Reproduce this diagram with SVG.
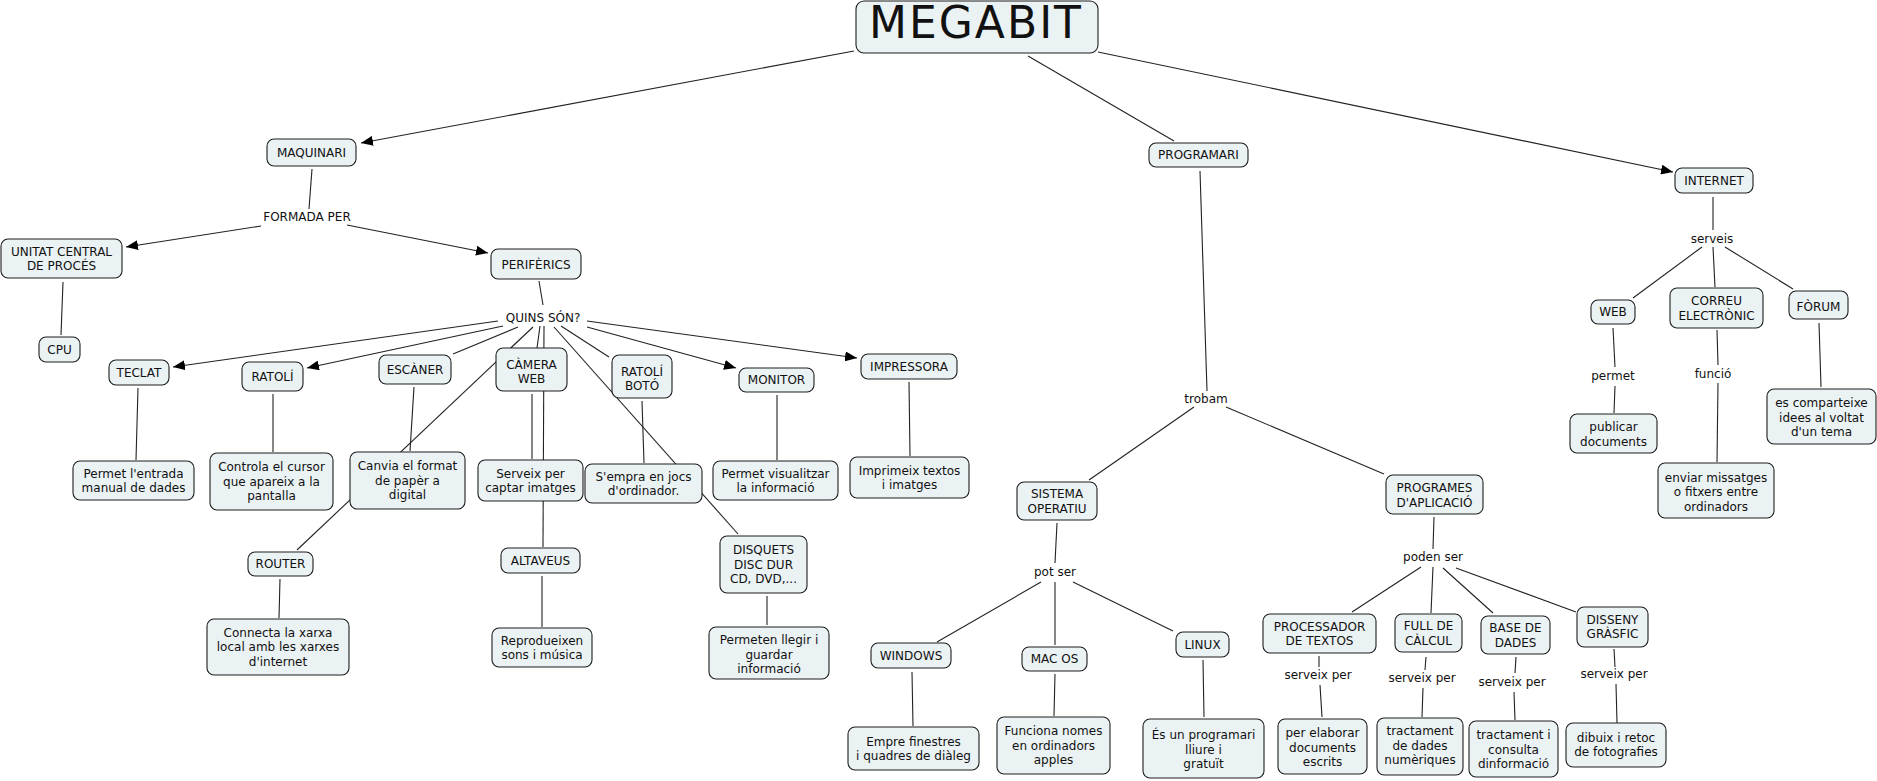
<svg xmlns="http://www.w3.org/2000/svg" width="1877" height="781" viewBox="0 0 1877 781">
<defs>
<style>
.n rect{fill:#ebf2f4;stroke:#1e1e1e;stroke-width:1.1}
text{font-family:"DejaVu Sans","Liberation Sans",sans-serif;font-size:12px;fill:#111;text-anchor:middle}
.c line{stroke:#222;stroke-width:1.1;fill:none}
.c line.a{marker-end:url(#arr)}
</style>
<marker id="arr" viewBox="0 0 12 10" refX="12" refY="5" markerWidth="12" markerHeight="10" markerUnits="userSpaceOnUse" orient="auto">
<path d="M0,0 L12,5 L0,10 z" fill="#000"/>
</marker>
</defs>
<rect x="0" y="0" width="1877" height="781" fill="#fff"/>

<g id="connectors" class="c">
<line class="a" x1="854" y1="51" x2="361" y2="143"/>
<line x1="1028" y1="56" x2="1174" y2="141"/>
<line class="a" x1="1098" y1="52" x2="1673" y2="172"/>
<line x1="312" y1="169" x2="309" y2="209"/>
<line class="a" x1="261" y1="226" x2="126" y2="247"/>
<line class="a" x1="347" y1="225" x2="488" y2="253"/>
<line x1="63" y1="282" x2="61" y2="335"/>
<line x1="539" y1="281" x2="543" y2="305"/>
<line class="a" x1="498" y1="321" x2="173" y2="367"/>
<line class="a" x1="503" y1="326" x2="307" y2="368"/>
<line x1="518" y1="327" x2="453" y2="354"/>
<line x1="533" y1="327" x2="297" y2="550"/>
<line x1="540" y1="326" x2="537" y2="348"/>
<line x1="544" y1="326" x2="543" y2="547"/>
<line x1="554" y1="327" x2="738" y2="534"/>
<line x1="561" y1="326" x2="609" y2="357"/>
<line class="a" x1="587" y1="327" x2="736" y2="368"/>
<line class="a" x1="587" y1="321" x2="857" y2="358"/>
<line x1="138" y1="388" x2="136" y2="460"/>
<line x1="273" y1="394" x2="273" y2="452"/>
<line x1="414" y1="387" x2="410" y2="451"/>
<line x1="532" y1="394" x2="532" y2="459"/>
<line x1="642" y1="401" x2="644" y2="463"/>
<line x1="777" y1="395" x2="777" y2="460"/>
<line x1="909" y1="382" x2="910" y2="456"/>
<line x1="280" y1="579" x2="279" y2="618"/>
<line x1="542" y1="576" x2="542" y2="627"/>
<line x1="767" y1="596" x2="767" y2="625"/>
<line x1="1200" y1="171" x2="1207" y2="391"/>
<line x1="1194" y1="407" x2="1089" y2="480"/>
<line x1="1226" y1="407" x2="1384" y2="474"/>
<line x1="1057" y1="523" x2="1055" y2="563"/>
<line x1="1041" y1="582" x2="937" y2="642"/>
<line x1="1055" y1="582" x2="1055" y2="645"/>
<line x1="1073" y1="582" x2="1173" y2="631"/>
<line x1="912" y1="672" x2="913" y2="726"/>
<line x1="1055" y1="674" x2="1054" y2="716"/>
<line x1="1203" y1="660" x2="1204" y2="717"/>
<line x1="1434" y1="517" x2="1433" y2="549"/>
<line x1="1421" y1="567" x2="1352" y2="612"/>
<line x1="1433" y1="567" x2="1431" y2="613"/>
<line x1="1443" y1="568" x2="1493" y2="613"/>
<line x1="1456" y1="568" x2="1576" y2="612"/>
<line x1="1319" y1="656" x2="1319" y2="667"/>
<line x1="1320" y1="685" x2="1322" y2="717"/>
<line x1="1426" y1="657" x2="1425" y2="670"/>
<line x1="1423" y1="688" x2="1422" y2="717"/>
<line x1="1516" y1="657" x2="1515" y2="673"/>
<line x1="1514" y1="692" x2="1515" y2="720"/>
<line x1="1614" y1="649" x2="1615" y2="667"/>
<line x1="1616" y1="684" x2="1617" y2="723"/>
<line x1="1713" y1="197" x2="1713" y2="230"/>
<line x1="1702" y1="247" x2="1633" y2="298"/>
<line x1="1713" y1="247" x2="1715" y2="287"/>
<line x1="1725" y1="247" x2="1793" y2="289"/>
<line x1="1613" y1="328" x2="1615" y2="367"/>
<line x1="1615" y1="386" x2="1614" y2="413"/>
<line x1="1717" y1="330" x2="1718" y2="365"/>
<line x1="1718" y1="383" x2="1717" y2="462"/>
<line x1="1819" y1="323" x2="1821" y2="387"/>
</g>

<g id="linking-phrases">
<text x="307" y="221.3">FORMADA PER</text>
<text x="543" y="321.5">QUINS SÓN?</text>
<text x="1206" y="402.5">trobam</text>
<text x="1712" y="243.3">serveis</text>
<text x="1613" y="379.5">permet</text>
<text x="1713" y="378.3">funció</text>
<text x="1055" y="575.5">pot ser</text>
<text x="1433" y="560.5">poden ser</text>
<text x="1318" y="678.5">serveix per</text>
<text x="1422" y="681.5">serveix per</text>
<text x="1512" y="685.5">serveix per</text>
<text x="1614" y="677.5">serveix per</text>
</g>

<g id="megabit" class="n"><rect x="856" y="1" width="242" height="52" rx="8"/><text x="975" y="38" style="font-size:44px" textLength="212">MEGABIT</text></g>
<g id="maquinari" class="n"><rect x="267" y="139" width="89" height="27" rx="7"/><text x="311.5" y="156.8">MAQUINARI</text></g>
<g id="programari" class="n"><rect x="1149" y="143" width="99" height="24" rx="7"/><text x="1198.5" y="159.3">PROGRAMARI</text></g>
<g id="internet" class="n"><rect x="1675" y="168" width="78" height="25" rx="7"/><text x="1714" y="184.8">INTERNET</text></g>
<g id="unitat" class="n"><rect x="1" y="239" width="121" height="39" rx="7"/><text x="61.5" y="255.6">UNITAT CENTRAL</text><text x="61.5" y="270.1">DE PROCÉS</text></g>
<g id="periferics" class="n"><rect x="491" y="249" width="90" height="30" rx="7"/><text x="536" y="268.8">PERIFÈRICS</text></g>
<g id="cpu" class="n"><rect x="39" y="337" width="41" height="25" rx="7"/><text x="59.5" y="353.8">CPU</text></g>
<g id="teclat" class="n"><rect x="109" y="360" width="60" height="25" rx="7"/><text x="139" y="376.8">TECLAT</text></g>
<g id="ratoli" class="n"><rect x="242" y="362" width="61" height="29" rx="7"/><text x="272.5" y="381.3">RATOLÍ</text></g>
<g id="escaner" class="n"><rect x="379" y="355" width="72" height="29" rx="7"/><text x="415" y="374.3">ESCÀNER</text></g>
<g id="camera-web" class="n"><rect x="496" y="348" width="71" height="43" rx="7"/><text x="531.5" y="368.5">CÀMERA</text><text x="531.5" y="383">WEB</text></g>
<g id="ratoli-boto" class="n"><rect x="612" y="355" width="60" height="43" rx="7"/><text x="642" y="376">RATOLÍ</text><text x="642" y="390.3">BOTÓ</text></g>
<g id="monitor" class="n"><rect x="739" y="368" width="75" height="24" rx="7"/><text x="776.5" y="384.3">MONITOR</text></g>
<g id="impressora" class="n"><rect x="861" y="354" width="96" height="25" rx="7"/><text x="909" y="370.8">IMPRESSORA</text></g>
<g id="permet-entrada" class="n"><rect x="73" y="461" width="121" height="39" rx="7"/><text x="133.5" y="477.6">Permet l'entrada</text><text x="133.5" y="492.1">manual de dades</text></g>
<g id="controla" class="n"><rect x="210" y="453" width="123" height="57" rx="7"/><text x="271.5" y="471.3">Controla el cursor</text><text x="271.5" y="485.8">que apareix a la</text><text x="271.5" y="500.3">pantalla</text></g>
<g id="canvia" class="n"><rect x="350" y="452" width="115" height="57" rx="7"/><text x="407.5" y="470.3">Canvia el format</text><text x="407.5" y="484.8">de papèr a</text><text x="407.5" y="499.3">digital</text></g>
<g id="serveix-captar" class="n"><rect x="478" y="460" width="105" height="41" rx="7"/><text x="530.5" y="477.6">Serveix per</text><text x="530.5" y="492.1">captar imatges</text></g>
<g id="sempra" class="n"><rect x="585" y="464" width="117" height="39" rx="7"/><text x="643.5" y="480.6">S'empra en jocs</text><text x="643.5" y="495.1">d'ordinador.</text></g>
<g id="permet-visualitzar" class="n"><rect x="713" y="461" width="125" height="39" rx="7"/><text x="775.5" y="477.6">Permet visualitzar</text><text x="775.5" y="492.1">la informació</text></g>
<g id="imprimeix" class="n"><rect x="850" y="457" width="119" height="41" rx="7"/><text x="909.5" y="474.6">Imprimeix textos</text><text x="909.5" y="489.1">i imatges</text></g>
<g id="router" class="n"><rect x="248" y="552" width="65" height="24" rx="7"/><text x="280.5" y="568.3">ROUTER</text></g>
<g id="connecta" class="n"><rect x="207" y="619" width="142" height="56" rx="7"/><text x="278" y="636.8">Connecta la xarxa</text><text x="278" y="651.3">local amb les xarxes</text><text x="278" y="665.8">d'internet</text></g>
<g id="altaveus" class="n"><rect x="501" y="548" width="79" height="25" rx="7"/><text x="540.5" y="564.8">ALTAVEUS</text></g>
<g id="reprodueixen" class="n"><rect x="492" y="628" width="100" height="39" rx="7"/><text x="542" y="644.6">Reprodueixen</text><text x="542" y="659.1">sons i música</text></g>
<g id="disquets" class="n"><rect x="720" y="536" width="87" height="57" rx="7"/><text x="763.5" y="554.3">DISQUETS</text><text x="763.5" y="568.8">DISC DUR</text><text x="763.5" y="583.3">CD, DVD,...</text></g>
<g id="permeten" class="n"><rect x="709" y="627" width="120" height="52" rx="7"/><text x="769" y="644.3">Permeten llegir i</text><text x="769" y="658.8">guardar</text><text x="769" y="673.3">informació</text></g>
<g id="sistema-operatiu" class="n"><rect x="1017" y="482" width="80" height="38" rx="7"/><text x="1057" y="498.2">SISTEMA</text><text x="1057" y="512.7">OPERATIU</text></g>
<g id="programes-aplicacio" class="n"><rect x="1386" y="475" width="97" height="39" rx="7"/><text x="1434.5" y="492.3">PROGRAMES</text><text x="1434.5" y="506.8">D'APLICACIÓ</text></g>
<g id="windows" class="n"><rect x="871" y="643" width="80" height="25" rx="7"/><text x="911" y="659.8">WINDOWS</text></g>
<g id="macos" class="n"><rect x="1022" y="647" width="65" height="24" rx="7"/><text x="1054.5" y="663.3">MAC OS</text></g>
<g id="linux" class="n"><rect x="1176" y="632" width="53" height="25" rx="7"/><text x="1202.5" y="648.8">LINUX</text></g>
<g id="empre" class="n"><rect x="848" y="727" width="131" height="43" rx="7"/><text x="913.5" y="745.6">Empre finestres</text><text x="913.5" y="760.1">i quadres de diàleg</text></g>
<g id="funciona" class="n"><rect x="997" y="717" width="113" height="57" rx="7"/><text x="1053.5" y="735">Funciona nomes</text><text x="1053.5" y="749.5">en ordinadors</text><text x="1053.5" y="764">apples</text></g>
<g id="es-programari" class="n"><rect x="1143" y="719" width="121" height="59" rx="7"/><text x="1203.5" y="739">És un programari</text><text x="1203.5" y="753.5">lliure i</text><text x="1203.5" y="768">gratuït</text></g>
<g id="processador" class="n"><rect x="1263" y="614" width="113" height="39" rx="7"/><text x="1319.5" y="630.6">PROCESSADOR</text><text x="1319.5" y="645.1">DE TEXTOS</text></g>
<g id="full-calcul" class="n"><rect x="1395" y="614" width="67" height="38" rx="7"/><text x="1428.5" y="630.3">FULL DE</text><text x="1428.5" y="644.8">CÀLCUL</text></g>
<g id="base-dades" class="n"><rect x="1481" y="616" width="69" height="38" rx="7"/><text x="1515.5" y="632.1">BASE DE</text><text x="1515.5" y="646.6">DADES</text></g>
<g id="disseny" class="n"><rect x="1577" y="607" width="71" height="40" rx="7"/><text x="1612.5" y="623.6">DISSENY</text><text x="1612.5" y="638.3">GRÀSFIC</text></g>
<g id="elaborar" class="n"><rect x="1278" y="719" width="89" height="55" rx="7"/><text x="1322.5" y="737">per elaborar</text><text x="1322.5" y="751.5">documents</text><text x="1322.5" y="766">escrits</text></g>
<g id="tractament-dades" class="n"><rect x="1377" y="718" width="86" height="57" rx="7"/><text x="1420" y="735">tractament</text><text x="1420" y="749.5">de dades</text><text x="1420" y="764">numèriques</text></g>
<g id="tractament-consulta" class="n"><rect x="1469" y="721" width="89" height="56" rx="7"/><text x="1513.5" y="739.3">tractament i</text><text x="1513.5" y="753.8">consulta</text><text x="1513.5" y="768.3">dinformació</text></g>
<g id="dibuix" class="n"><rect x="1566" y="723" width="100" height="44" rx="7"/><text x="1616" y="741.8">dibuix i retoc</text><text x="1616" y="756.3">de fotografies</text></g>
<g id="web" class="n"><rect x="1591" y="300" width="44" height="24" rx="7"/><text x="1613" y="316.3">WEB</text></g>
<g id="correu" class="n"><rect x="1670" y="288" width="93" height="40" rx="7"/><text x="1716.5" y="305.1">CORREU</text><text x="1716.5" y="319.6">ELECTRÒNIC</text></g>
<g id="forum" class="n"><rect x="1789" y="291" width="59" height="28" rx="7"/><text x="1818.5" y="310.5">FÒRUM</text></g>
<g id="publicar" class="n"><rect x="1570" y="414" width="87" height="39" rx="7"/><text x="1613.5" y="431.3">publicar</text><text x="1613.5" y="445.8">documents</text></g>
<g id="enviar" class="n"><rect x="1658" y="463" width="116" height="55" rx="7"/><text x="1716" y="481.5">enviar missatges</text><text x="1716" y="496">o fitxers entre</text><text x="1716" y="510.5">ordinadors</text></g>
<g id="comparteixe" class="n"><rect x="1767" y="389" width="109" height="55" rx="7"/><text x="1821.5" y="407">es comparteixe</text><text x="1821.5" y="421.5">idees al voltat</text><text x="1821.5" y="436">d'un tema</text></g>
</svg>
